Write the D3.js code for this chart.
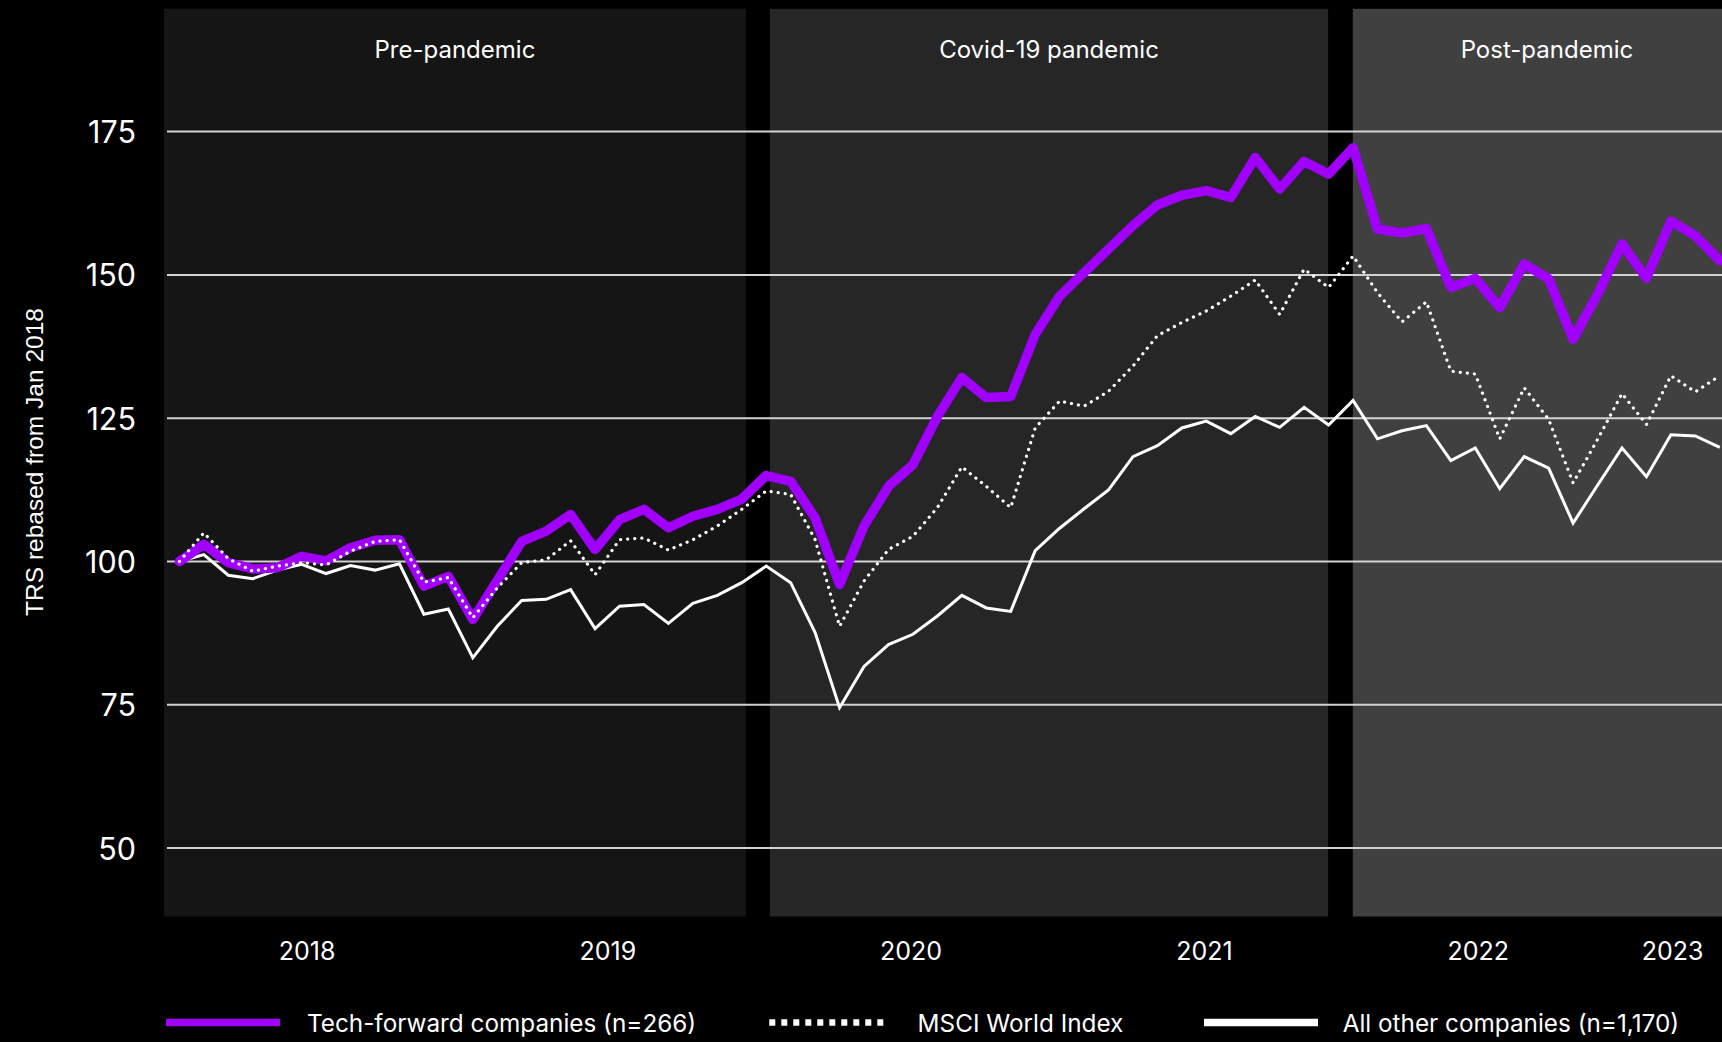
<!DOCTYPE html>
<html>
<head>
<meta charset="utf-8">
<script src="https://cdn.jsdelivr.net/npm/d3@7"></script>
<style>
  html, body { margin: 0; padding: 0; background: #000; }
  svg { display: block; }
</style>
</head>
<body>
<svg id="chart" width="1722" height="1042"></svg>
<script>
// ---------- DATA ----------
// Monthly observations, Jan 2018 (index 0) to Apr 2023 (index 63)
const months = d3.timeMonth.range(new Date(2018, 0, 1), new Date(2023, 4, 1)).map(d3.timeFormat("%Y-%m"));

const techForward = [
  100.0, 103.0, 99.8, 98.7, 98.9, 100.9, 100.1, 102.4, 103.7, 103.8,
  95.7, 97.4, 89.9, 96.7, 103.5, 105.3, 108.2, 102.1, 107.3, 109.1,
  105.9, 107.9, 109.1, 110.9, 115.0, 114.0, 107.6, 96.0, 106.2, 113.1,
  116.9, 125.3, 132.1, 128.6, 128.8, 139.6, 146.3, 150.4, 154.5, 158.6,
  162.2, 163.9, 164.7, 163.5, 170.5, 165.0, 169.8, 167.6, 172.2, 158.0,
  157.3, 158.1, 147.8, 149.4, 144.3, 151.9, 149.3, 138.8, 146.6, 155.4,
  149.4, 159.4, 156.8, 152.5
];

const msciWorld = [
  100.0, 105.0, 100.5, 98.3, 99.2, 99.8, 99.4, 101.8, 103.5, 103.8,
  96.4, 97.2, 90.2, 95.4, 99.8, 100.3, 103.6, 97.7, 103.8, 104.1,
  102.0, 103.8, 106.2, 109.1, 112.3, 111.7, 103.8, 88.7, 96.6, 102.1,
  104.4, 109.4, 116.5, 113.1, 109.4, 123.3, 128.0, 127.1, 129.7, 134.1,
  139.4, 141.7, 143.7, 146.3, 149.1, 143.1, 151.0, 147.8, 153.3, 146.9,
  141.8, 145.3, 133.2, 132.7, 121.4, 130.3, 124.8, 113.7, 121.3, 129.3,
  123.9, 132.4, 129.6, 132.4
];

const allOthers = [
  100.0, 101.2, 97.6, 97.0, 98.5, 99.5, 97.9, 99.3, 98.5, 99.6,
  90.8, 91.7, 83.2, 88.7, 93.2, 93.4, 95.1, 88.3, 92.2, 92.5,
  89.2, 92.7, 94.1, 96.3, 99.2, 96.3, 87.6, 74.5, 81.7, 85.5,
  87.3, 90.5, 94.1, 91.9, 91.3, 101.9, 105.8, 109.2, 112.5, 118.3,
  120.2, 123.3, 124.5, 122.3, 125.3, 123.4, 126.9, 123.8, 128.1, 121.4,
  122.8, 123.7, 117.6, 119.8, 112.7, 118.3, 116.3, 106.7, 113.3, 119.8,
  114.8, 122.1, 121.9, 119.9
];

// Periods, expressed in months since Jan 2018
const periodLabels = ["Pre-pandemic", "Covid-19 pandemic", "Post-pandemic"];
const periodStart  = [-0.63, 24.15, 47.99];
const periodEnd    = [23.17, 46.98, 63.87];

// Year tick labels and their positions (months since Jan 2018)
const yearLabels = ["2018", "2019", "2020", "2021", "2022", "2023"];
const yearPos    = [5.2, 17.5, 29.9, 41.9, 53.1, 61.05];

const yTicks = [50, 75, 100, 125, 150, 175];

const seriesNames = ["Tech-forward companies (n=266)", "MSCI World Index", "All other companies (n=1,170)"];

// ---------- STYLE ----------
const W = 1722, H = 1042;
const PURPLE = "#a100ff";
const panelFill = ["#151515", "#262626", "#404040"];
const FONT = "Inter, 'Noto Sans', sans-serif";

const svg = d3.select("#chart");
svg.append("rect").attr("width", W).attr("height", H).attr("fill", "#000");

const x = d3.scaleLinear().domain([0, 63]).range([179.4, 1719.8]);
const y = d3.scaleLinear().domain([100, 175]).range([561.5, 131.6]);
const plotTop = 8.8, plotBottom = 916.5;

// Panels
const periods = periodLabels.map((l, i) => ({label: l, s: periodStart[i], e: periodEnd[i], fill: panelFill[i]}));
svg.append("g").selectAll("rect").data(periods).join("rect")
  .attr("x", d => x(d.s))
  .attr("width", d => x(d.e) - x(d.s))
  .attr("y", plotTop)
  .attr("height", plotBottom - plotTop)
  .attr("fill", d => d.fill);

// Gridlines
svg.append("g").selectAll("line").data(yTicks).join("line")
  .attr("x1", 167).attr("x2", W)
  .attr("y1", d => y(d)).attr("y2", d => y(d))
  .attr("stroke", "#d2d2d2").attr("stroke-width", 2);

// Y tick labels
const yAxis = d3.axisLeft(y).tickValues(yTicks).tickSize(0).tickPadding(0);
const gy = svg.append("g").attr("transform", "translate(136,0)").call(yAxis);
gy.select(".domain").remove();
gy.selectAll("text")
  .attr("font-family", FONT).attr("font-size", 30.5).attr("fill", "#fff")
  .attr("dy", null).attr("dominant-baseline", null)
  .attr("y", 11);

// Panel labels
svg.append("g").selectAll("text").data(periods).join("text")
  .attr("x", d => (x(d.s) + x(d.e)) / 2)
  .attr("y", 58.3)
  .attr("text-anchor", "middle")
  .attr("font-family", FONT).attr("font-size", 24).attr("fill", "#fff")
  .text(d => d.label);

// Lines
const line = d3.line().x((d, i) => x(i)).y(d => y(d));
svg.append("path").datum(allOthers)
  .attr("d", line).attr("fill", "none")
  .attr("stroke", "#fff").attr("stroke-width", 3).attr("stroke-linejoin", "miter");
svg.append("path").datum(techForward)
  .attr("d", line).attr("fill", "none")
  .attr("stroke", PURPLE).attr("stroke-width", 9.5)
  .attr("stroke-linejoin", "round").attr("stroke-linecap", "round");
svg.append("path").datum(msciWorld)
  .attr("d", line).attr("fill", "none")
  .attr("stroke", "#fff").attr("stroke-width", 3.2)
  .attr("stroke-dasharray", "0.1,7").attr("stroke-linecap", "round");

// X year labels
const xAxis = d3.axisBottom(x).tickValues(yearPos).tickFormat((d, i) => yearLabels[i]).tickSize(0).tickPadding(0);
const gx = svg.append("g").call(xAxis);
gx.select(".domain").remove();
gx.selectAll("text")
  .attr("font-family", FONT).attr("font-size", 25).attr("fill", "#fff")
  .attr("dy", null).attr("y", 960);

// Y title
svg.append("text")
  .attr("transform", "translate(43,462) rotate(-90)")
  .attr("text-anchor", "middle")
  .attr("font-family", "'Liberation Sans', Arial, sans-serif")
  .attr("font-size", 24.5).attr("fill", "#fff")
  .text("TRS rebased from Jan 2018");

// Legend
const legendY = 1022.5;
const legendItems = [
  {name: seriesNames[0], x0: 166, tx: 307, stroke: PURPLE, dash: null},
  {name: seriesNames[1], x0: 769.3, tx: 917.6, stroke: "#fff", dash: "6,6"},
  {name: seriesNames[2], x0: 1204, tx: 1342.7, stroke: "#fff", dash: null}
];
const lg = svg.append("g").selectAll("g").data(legendItems).join("g");
lg.append("line")
  .attr("x1", d => d.x0).attr("x2", d => d.x0 + 114)
  .attr("y1", legendY).attr("y2", legendY)
  .attr("stroke", d => d.stroke).attr("stroke-width", d => d.dash ? 6.3 : 7.5)
  .attr("stroke-dasharray", d => d.dash);
lg.append("text")
  .attr("x", d => d.tx).attr("y", legendY + 9.5)
  .attr("font-family", FONT).attr("font-size", 24.3).attr("fill", "#fff")
  .text(d => d.name);
</script>
</body>
</html>
